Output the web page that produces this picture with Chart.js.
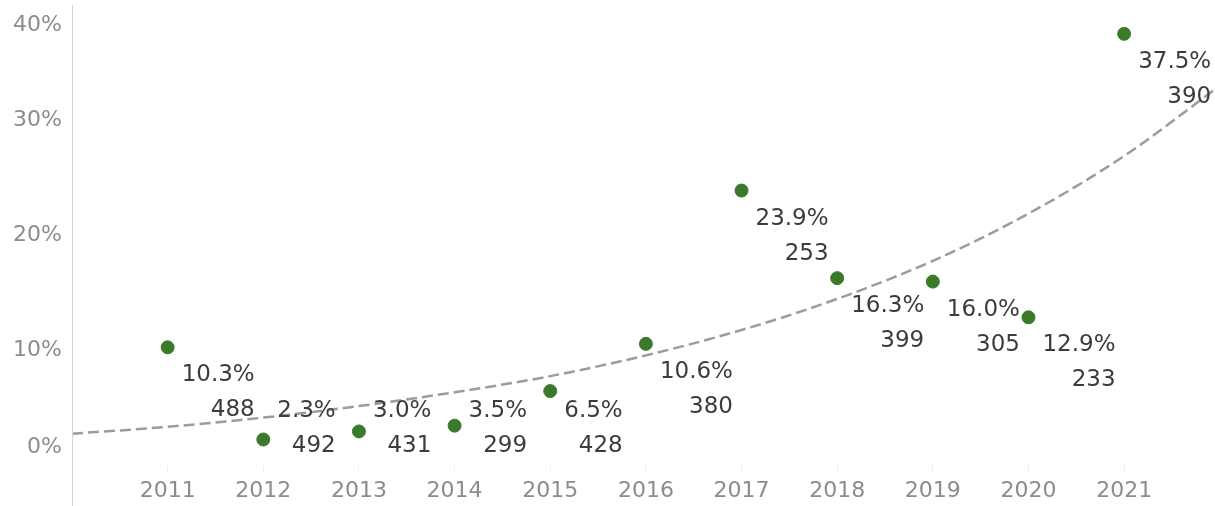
<!DOCTYPE html>
<html>
<head>
<meta charset="utf-8">
<script src="https://cdn.jsdelivr.net/npm/chart.js@4"></script>
<style>
  html, body { margin: 0; padding: 0; background: #fff; }
  #wrap { width: 1215px; height: 506px; }
</style>
</head>
<body>
<div id="wrap"><canvas id="c"></canvas></div>
<script>
// 数据
const years = [2011, 2012, 2013, 2014, 2015, 2016, 2017, 2018, 2019, 2020, 2021];
const shares = [10.3, 2.3, 3.0, 3.5, 6.5, 10.6, 23.9, 16.3, 16.0, 12.9, 37.5];
const counts = [488, 492, 431, 299, 428, 380, 253, 399, 305, 233, 390];
// 趋势线
const trendYears = [2010, 2011, 2012, 2013, 2014, 2015, 2016, 2017, 2018, 2019, 2020, 2021, 2022];
const trendValues = [2.8, 3.4, 4.2, 5.2, 6.4, 7.8, 9.6, 11.8, 14.5, 17.8, 21.9, 26.9, 33.0];
const yTicks = [0, 10, 20, 30, 40];

const FONT = '"DejaVu Sans", sans-serif';
const GREEN = '#3b7a2a';

// 数据标签：百分比 + 数量，右对齐，放在点的右下方
const pointLabels = {
  id: 'pointLabels',
  afterDatasetsDraw(chart) {
    const ctx = chart.ctx;
    const meta = chart.getDatasetMeta(1);
    const limit = chart.chartArea.bottom - 55;
    ctx.save();
    ctx.font = '23px ' + FONT;
    ctx.fillStyle = '#3c3c3c';
    ctx.textAlign = 'right';
    ctx.textBaseline = 'middle';
    meta.data.forEach((pt, i) => {
      const l1 = shares[i].toFixed(1) + '%';
      const l2 = String(counts[i]);
      const w = Math.max(ctx.measureText(l1).width, ctx.measureText(l2).width);
      const xr = pt.x + 14 + w;
      const y1 = Math.min(pt.y + 28, limit);
      ctx.fillText(l1, xr, y1);
      ctx.fillText(l2, xr, y1 + 35);
    });
    ctx.restore();
  }
};

// y 轴：竖线 + 边缘标签往里收
const yAxisDeco = {
  id: 'yAxisDeco',
  afterDraw(chart) {
    const ctx = chart.ctx;
    const ca = chart.chartArea;
    const ys = chart.scales.y;
    ctx.save();
    ctx.strokeStyle = '#d4d4d4';
    ctx.lineWidth = 1;
    ctx.beginPath();
    ctx.moveTo(ca.left + 0.5, ca.top);
    ctx.lineTo(ca.left + 0.5, chart.height);
    ctx.stroke();
    ctx.font = '22px ' + FONT;
    ctx.fillStyle = '#8c8c8c';
    ctx.textAlign = 'right';
    ctx.textBaseline = 'middle';
    yTicks.forEach(v => {
      let y = ys.getPixelForValue(v);
      y = Math.max(ca.top + 20, Math.min(ca.bottom - 19, y));
      ctx.fillText(v + '%', ca.left - 10, y);
    });
    ctx.restore();
  }
};

new Chart(document.getElementById('c'), {
  data: {
    datasets: [{
      type: 'line',
      data: trendYears.map((x, i) => ({x: x, y: trendValues[i]})),
      borderColor: '#9c9c9c',
      borderWidth: 2.5,
      borderDash: [11, 5],
      pointRadius: 0,
      cubicInterpolationMode: 'monotone',
      fill: false
    }, {
      type: 'scatter',
      data: years.map((x, i) => ({x: x, y: shares[i]})),
      backgroundColor: GREEN,
      borderColor: GREEN,
      pointRadius: 6.5,
      pointHoverRadius: 6.5
    }]
  },
  options: {
    responsive: true,
    maintainAspectRatio: false,
    animation: false,
    layout: {autoPadding: false, padding: {top: 5, right: 0, left: 0, bottom: 0}},
    plugins: {legend: {display: false}, tooltip: {enabled: false}},
    scales: {
      x: {
        type: 'linear',
        min: 2010,
        max: 2021.95,
        afterBuildTicks: s => { s.ticks = years.map(v => ({value: v})); },
        afterFit: s => { s.height = 40; },
        ticks: {
          callback: v => String(v),
          color: '#8c8c8c',
          font: {family: FONT, size: 22},
          padding: 6,
          maxRotation: 0,
          autoSkip: false
        },
        grid: {drawOnChartArea: false, drawTicks: true, tickLength: 6, color: '#eeeeee'},
        border: {display: false}
      },
      y: {
        min: 0,
        max: 40,
        afterFit: s => { s.width = 72; },
        ticks: {display: false},
        grid: {display: false},
        border: {display: false}
      }
    }
  },
  plugins: [pointLabels, yAxisDeco]
});
</script>
</body>
</html>
